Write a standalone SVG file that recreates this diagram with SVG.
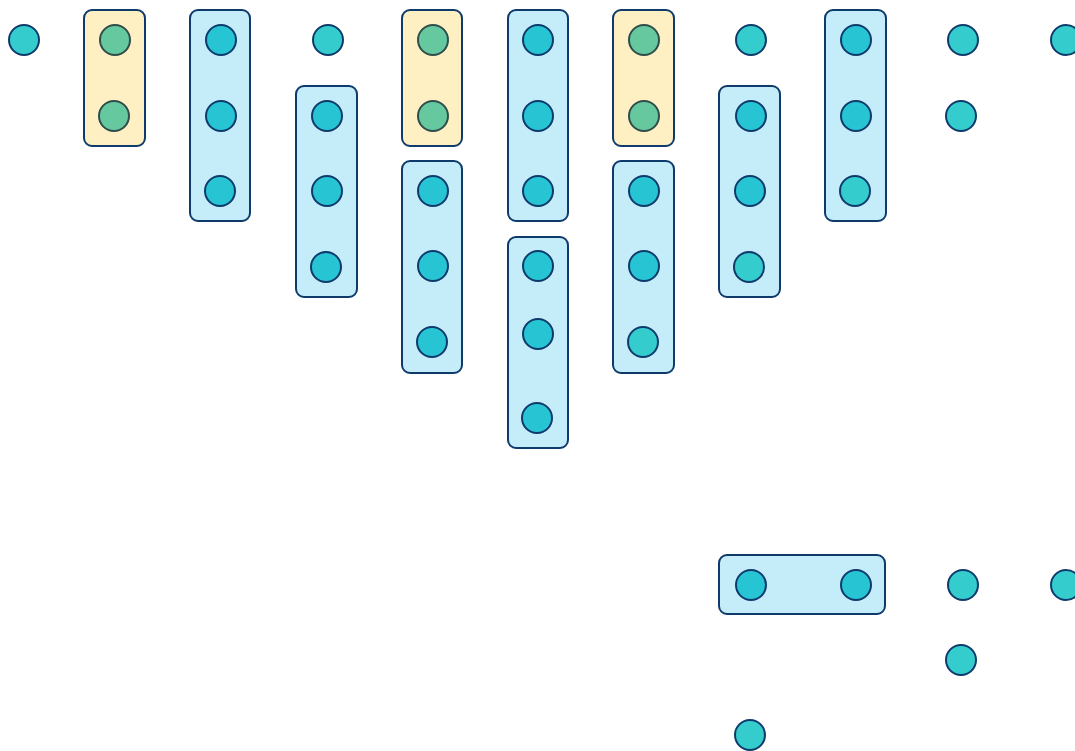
<svg xmlns="http://www.w3.org/2000/svg" width="1075" height="751" viewBox="0 0 1075 751">
<style>
.bg{fill:#ffffff}
.boxB{fill:#c4ecf9;stroke:#0e3b6c;stroke-width:2}
.boxY{fill:#fff0c4;stroke:#0e3b6c;stroke-width:2}
.cB{fill:#27c4d4;stroke:#0e3b6c;stroke-width:2}
.cL{fill:#34cccc;stroke:#0e3b6c;stroke-width:2}
.cG{fill:#66c89f;stroke:#2f4d4a;stroke-width:2}
</style>
<rect class="bg" x="0" y="0" width="1075" height="751"/>
<g id="connectors"></g>
<g id="n1"><circle class="cL" cx="24" cy="40" r="15"/></g>
<g id="g2"><rect class="boxY" x="84" y="10" width="61" height="136" rx="8"/>
<circle class="cG" cx="115" cy="40" r="15"/><circle class="cG" cx="114" cy="116" r="15"/></g>
<g id="g3"><rect class="boxB" x="190" y="10" width="60" height="211" rx="8"/>
<circle class="cB" cx="221" cy="40" r="15"/><circle class="cB" cx="221" cy="116" r="15"/><circle class="cB" cx="220" cy="191" r="15"/></g>
<g id="n4"><circle class="cL" cx="328" cy="40" r="15"/></g>
<g id="g4"><rect class="boxB" x="296" y="86" width="61" height="211" rx="8"/>
<circle class="cB" cx="327" cy="116" r="15"/><circle class="cB" cx="327" cy="191" r="15"/><circle class="cB" cx="326" cy="267" r="15"/></g>
<g id="g5a"><rect class="boxY" x="402" y="10" width="60" height="136" rx="8"/>
<circle class="cG" cx="433" cy="40" r="15"/><circle class="cG" cx="433" cy="116" r="15"/></g>
<g id="g5b"><rect class="boxB" x="402" y="161" width="60" height="212" rx="8"/>
<circle class="cB" cx="433" cy="191" r="15"/><circle class="cB" cx="433" cy="266" r="15"/><circle class="cB" cx="432" cy="342" r="15"/></g>
<g id="g6a"><rect class="boxB" x="508" y="10" width="60" height="211" rx="8"/>
<circle class="cB" cx="538" cy="40" r="15"/><circle class="cB" cx="538" cy="116" r="15"/><circle class="cB" cx="538" cy="191" r="15"/></g>
<g id="g6b"><rect class="boxB" x="508" y="237" width="60" height="211" rx="8"/>
<circle class="cB" cx="538" cy="266" r="15"/><circle class="cB" cx="538" cy="334" r="15"/><circle class="cB" cx="537" cy="418" r="15"/></g>
<g id="g7a"><rect class="boxY" x="613" y="10" width="61" height="136" rx="8"/>
<circle class="cG" cx="644" cy="40" r="15"/><circle class="cG" cx="644" cy="116" r="15"/></g>
<g id="g7b"><rect class="boxB" x="613" y="161" width="61" height="212" rx="8"/>
<circle class="cB" cx="644" cy="191" r="15"/><circle class="cB" cx="644" cy="266" r="15"/><circle class="cL" cx="643" cy="342" r="15"/></g>
<g id="n8"><circle class="cL" cx="751" cy="40" r="15"/></g>
<g id="g8"><rect class="boxB" x="719" y="86" width="61" height="211" rx="8"/>
<circle class="cB" cx="751" cy="116" r="15"/><circle class="cB" cx="750" cy="191" r="15"/><circle class="cL" cx="749" cy="267" r="15"/></g>
<g id="g9"><rect class="boxB" x="825" y="10" width="61" height="211" rx="8"/>
<circle class="cB" cx="856" cy="40" r="15"/><circle class="cB" cx="856" cy="116" r="15"/><circle class="cL" cx="855" cy="191" r="15"/></g>
<g id="n10a"><circle class="cL" cx="963" cy="40" r="15"/></g>
<g id="n10b"><circle class="cL" cx="961" cy="116" r="15"/></g>
<g id="n11"><circle class="cL" cx="1066" cy="40" r="15"/></g>
<g id="g12"><rect class="boxB" x="719" y="555" width="166" height="59" rx="8"/>
<circle class="cB" cx="751" cy="585" r="15"/><circle class="cB" cx="856" cy="585" r="15"/></g>
<g id="n13"><circle class="cL" cx="963" cy="585" r="15"/></g>
<g id="n14"><circle class="cL" cx="1066" cy="585" r="15"/></g>
<g id="n15"><circle class="cL" cx="961" cy="660" r="15"/></g>
<g id="n16"><circle class="cL" cx="750" cy="735" r="15"/></g>
</svg>
